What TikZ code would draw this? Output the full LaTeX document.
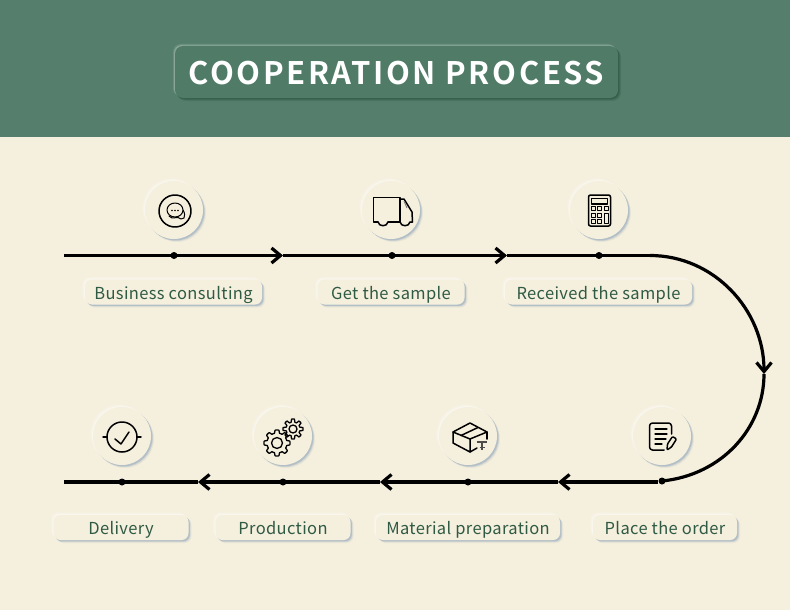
\documentclass[tikz,border=0pt]{standalone}
\usepackage{fontspec}
\setmainfont{Noto Sans CJK SC}
\newfontfamily\titlefont[LetterSpace = 8.3]{Noto Sans CJK SC Bold}
\newfontfamily\labelfont[LetterSpace = 2.2]{Noto Sans CJK SC}
\usetikzlibrary{arrows.meta, shadows}
\definecolor{bandgreen}{HTML}{557F6C}
\definecolor{boxgreen}{HTML}{4F7B67}
\definecolor{boxshade}{HTML}{2C5542}
\definecolor{cream}{HTML}{F5EFDD}
\definecolor{labelgreen}{HTML}{2F5A44}
\definecolor{shadeblue}{HTML}{9FB0C0}
\tikzset{
  softedge/.style = {
    general shadow = {shadow xshift = -3pt, shadow yshift = 3pt, fill = white, opacity = .12},
    general shadow = {shadow xshift = -2pt, shadow yshift = 2pt, fill = white, opacity = .2},
    general shadow = {shadow xshift = -1pt, shadow yshift = 1pt, fill = white, opacity = .3},
    general shadow = {shadow xshift = 3pt, shadow yshift = -3pt, fill = shadeblue, opacity = .12},
    general shadow = {shadow xshift = 2.2pt, shadow yshift = -2.2pt, fill = shadeblue, opacity = .3},
    general shadow = {shadow xshift = 1.4pt, shadow yshift = -1.4pt, fill = shadeblue, opacity = .6}},
  iconball/.style = {circle, softedge, fill = cream, inner sep = 0pt, minimum size = 58pt},
  steplabel/.style = {rectangle, softedge, rounded corners = 7pt, fill = cream, inner sep = 0pt,
    minimum height = 25pt, text height = 15.4pt, text depth = 1.4pt, text = labelgreen,
    font = \labelfont\fontsize{16.5}{20}\selectfont},
  titlebox/.style = {rectangle, rounded corners = 8pt, fill = boxgreen, inner sep = 0pt,
    minimum width = 443pt, minimum height = 52pt, text height = 26pt, text depth = 1.4pt, text = white,
    font = \titlefont\fontsize{31}{36}\selectfont,
    general shadow = {shadow xshift = -2pt, shadow yshift = 2pt, fill = white, opacity = .12},
    general shadow = {shadow xshift = -1pt, shadow yshift = 1pt, fill = white, opacity = .22},
    general shadow = {shadow xshift = 3pt, shadow yshift = -3pt, fill = boxshade, opacity = .2},
    general shadow = {shadow xshift = 2pt, shadow yshift = -2pt, fill = boxshade, opacity = .35},
    general shadow = {shadow xshift = 1pt, shadow yshift = -1pt, fill = boxshade, opacity = .6}},
  linedot/.style = {circle, fill = black, inner sep = 0pt, minimum size = 7pt},
  flow/.style = {line width = 3.2pt, -{Straight Barb[length = 9pt, width = 15pt]}},
  plainflow/.style = {line width = 3.2pt},
  icon/.style = {line width = 1.5pt, line join = round, line cap = round}
}
\pgfmathdeclarefunction{gearrad}{3}{%
  \pgfmathparse{#2 + (#1 - #2) * min(1, max(0, .5 + 1.4 * cos(8 * #3)))}%
}
\newcommand{\drawgear}[4]{%
  \draw [icon, line width = 1.3pt] plot [domain = 0:360, samples = 121, variable = \t]
    ({#1 + gearrad(#3, #3 - 3, \t) * cos(\t)}, {#2 + gearrad(#3, #3 - 3, \t) * sin(\t)}) -- cycle;
  \draw [icon, line width = 1.3pt] (#1,#2) circle [x radius = #4pt, y radius = #4pt];
}
\begin{document}
\begin{tikzpicture}[x = 1pt, y = -1pt]
  \useasboundingbox (0,0) rectangle (790,610);
  \fill [cream] (0,0) rectangle (790,610);
  \fill [bandgreen] (0,0) rectangle (790,137);
  \node [titlebox] (title) at (396.5,72) {COOPERATION PROCESS};

  \node [iconball] (ballA) at (174,210) {};
  \node [iconball] (ballB) at (391,210) {};
  \node [iconball] (ballC) at (599,210) {};
  \node [iconball] (ballD) at (662,436) {};
  \node [iconball] (ballE) at (468,436) {};
  \node [iconball] (ballF) at (283,436) {};
  \node [iconball] (ballG) at (122,436) {};

  \node [steplabel, minimum width = 177pt] (labelA) at (173.5,292) {Business consulting};
  \node [steplabel, minimum width = 147pt] (labelB) at (391,292) {Get the sample};
  \node [steplabel, minimum width = 187pt] (labelC) at (598.5,292) {Received the sample};
  \node [steplabel, minimum width = 144pt] (labelD) at (665,527.5) {Place the order};
  \node [steplabel, minimum width = 184pt] (labelE) at (468,527.5) {Material preparation};
  \node [steplabel, minimum width = 135pt] (labelF) at (283,527.5) {Production};
  \node [steplabel, minimum width = 135pt] (labelG) at (121,527.5) {Delivery};

  \coordinate (startTop) at (64,255.5);
  \coordinate (tipA) at (283,255.5);
  \coordinate (tipB) at (507,255.5);
  \coordinate (bendTop) at (650,255.5);
  \coordinate (tipC) at (764,374);
  \coordinate (bendLow) at (662,481);
  \coordinate (bendFlat) at (658,482);
  \coordinate (tipD) at (558,482);
  \coordinate (tipE) at (380,482);
  \coordinate (tipF) at (198,482);
  \coordinate (endLow) at (64,482);

  \draw [flow] (startTop) -- (tipA);
  \draw [flow] (tipA) -- (tipB);
  \draw [plainflow] (tipB) -- (bendTop);
  \draw [flow] (bendTop) .. controls (714,255.5) and (764,310) .. (tipC);
  \draw [plainflow] (tipC) .. controls (764,428) and (722,475) .. (bendLow);
  \draw [flow] (bendFlat) -- (tipD);
  \draw [flow] (tipD) -- (tipE);
  \draw [flow] (tipE) -- (tipF);
  \draw [plainflow] (tipF) -- (endLow);

  \node [linedot] (dotA) at (174,255.5) {};
  \node [linedot] (dotB) at (392,255.5) {};
  \node [linedot] (dotC) at (599,255.5) {};
  \node [linedot] (dotD) at (662,481) {};
  \node [linedot] (dotE) at (468,482) {};
  \node [linedot] (dotF) at (283,482) {};
  \node [linedot] (dotG) at (122,482) {};

  \draw [icon] (175,211) circle [x radius = 16pt, y radius = 16pt];
  \draw [icon, line width = 1pt] (175,210) circle [x radius = 8pt, y radius = 7pt];
  \draw [icon, line width = 1pt] (183,210) .. controls (185,213) and (185,216) .. (184,218)
    -- (181,219) -- (178,217.5) -- (172,218) -- (169,216);
  \fill (172,210.5) circle [x radius = .9pt, y radius = .9pt];
  \fill (175,210.5) circle [x radius = .9pt, y radius = .9pt];
  \fill (178,210.5) circle [x radius = .9pt, y radius = .9pt];

  \draw [icon] (378,222) -- (373.5,222) -- (373.5,197.5) -- (400,197.5) -- (400,222);
  \draw [icon] (388,222) .. controls (387,227) and (379,227) .. (378,222);
  \draw [icon] (388,222) -- (400,222);
  \draw [icon] (400,199) -- (404,199) -- (412,212) -- (412.5,222) -- (410,222);
  \draw [icon] (410,222) .. controls (409,227) and (401,227) .. (400,222);
  \draw [gray, line width = 1pt] (404,201) -- (407,208);

  \draw [icon, rounded corners = 2pt] (588.5,195) rectangle (610.5,226);
  \draw [icon, line width = 1.2pt] (591.5,198.5) rectangle (607.5,204);
  \foreach \keyx in {593,599.5} {
    \foreach \keyy in {208.5,215,221} {
      \draw [icon, line width = 1pt] (\keyx - 2,\keyy - 2) rectangle (\keyx + 2,\keyy + 2);
    }
  }
  \draw [icon, line width = 1pt] (604,206.5) rectangle (608,210.5);
  \draw [icon, line width = 1pt] (604,213) rectangle (608,223);

  \draw [icon, rounded corners = 3pt] (664,450) -- (649.5,450) -- (649.5,423) -- (671.5,423) -- (671.5,434);
  \draw [icon, line width = 1.3pt] (655,429) -- (667,429);
  \draw [icon, line width = 1.3pt] (655,434) -- (667,434);
  \draw [icon, line width = 1.3pt] (655,439) -- (666,439);
  \draw [icon, line width = 1.3pt] (655,444) -- (662,444);
  \draw [icon, rounded corners = 1pt] (667,450) -- (667.5,444) -- (672.5,436.5) -- (676.5,439) -- (671.5,447) -- cycle;

  \draw [icon] (470,423) -- (487,432) -- (470,439) -- (453,432) -- cycle;
  \draw [icon] (453,432) -- (453,443) -- (470,452) -- (470,439);
  \draw [icon] (470,452) -- (477,448);
  \draw [icon] (487,432) -- (487,439);
  \draw [icon] (461,435.5) -- (478,427.5);
  \draw [gray!60!black, line width = 1.2pt] (477,442) -- (487,442);
  \draw [gray!60!black, line width = 1.2pt] (482,442) -- (482,450);
  \draw [gray!60!black, line width = 1pt] (479.5,447.5) -- (484.5,447.5);

  \drawgear{277}{443}{13}{5.5}
  \drawgear{293}{429}{10}{4}

  \draw [icon] (122,437) circle [x radius = 15pt, y radius = 15pt];
  \draw [icon] (103,437) -- (107,437);
  \draw [icon] (137,437) -- (141,437);
  \draw [icon] (115,439) -- (121,444) -- (129,432);
\end{tikzpicture}
\end{document}
